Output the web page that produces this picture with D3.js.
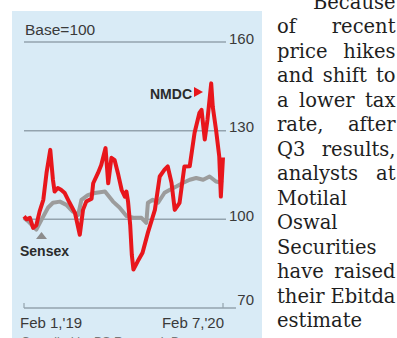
<!DOCTYPE html>
<html><head><meta charset="utf-8">
<script src="https://cdn.jsdelivr.net/npm/d3@7"></script>
<style>html,body{margin:0;padding:0;background:#fff;overflow:hidden}</style>
</head><body>
<svg id="c" width="397" height="338"></svg>
<script>
// ---- data ----
const nmdcDates = ["2019-02-01","2019-02-06","2019-02-12","2019-02-18","2019-02-24","2019-03-02","2019-03-09","2019-03-15","2019-03-22","2019-03-27","2019-03-30","2019-04-05","2019-04-11","2019-04-18","2019-04-27","2019-05-07","2019-05-16","2019-05-22","2019-05-28","2019-06-07","2019-06-10","2019-06-19","2019-06-25","2019-07-03","2019-07-08","2019-07-14","2019-07-20","2019-07-26","2019-08-02","2019-08-08","2019-08-11","2019-08-14","2019-08-18","2019-08-21","2019-08-24","2019-09-01","2019-09-10","2019-09-20","2019-10-03","2019-10-12","2019-10-21","2019-10-27","2019-11-03","2019-11-09","2019-11-18","2019-11-27","2019-12-07","2019-12-16","2019-12-25","2019-12-29","2020-01-04","2020-01-09","2020-01-16","2020-01-19","2020-01-25","2020-01-31","2020-02-03","2020-02-07"];
const nmdcValues = [101,100,100.5,97.1,98,102.6,106.6,115.7,123.5,113.3,109.4,110.6,110,108.9,105.6,102.2,94.8,103.2,106,107,112.2,115.7,118.4,124.1,112.2,120.8,120,115.7,110,107.7,109.4,106,98,88,83,85.8,88.7,95.5,103.2,114.5,116.8,117.9,112.4,103.2,105.6,117.9,118,129.3,136,137,127,133.6,146,138,130.3,121.3,107.7,121];
const sensexDates = ["2019-02-01","2019-02-08","2019-02-24","2019-03-06","2019-03-18","2019-03-27","2019-04-09","2019-04-21","2019-05-03","2019-05-13","2019-05-19","2019-05-31","2019-06-13","2019-07-02","2019-07-17","2019-07-29","2019-08-11","2019-08-26","2019-09-08","2019-09-17","2019-09-20","2019-09-29","2019-10-09","2019-10-21","2019-10-31","2019-11-12","2019-11-24","2019-12-07","2019-12-19","2020-01-01","2020-01-13","2020-01-25","2020-02-07"];
const sensexValues = [100.5,99.5,96.5,100,104,105.6,106,104.9,102.6,101.5,106.6,108.2,108.9,109.4,106,104,101.1,100.5,100.5,98.8,105.6,106.6,105.6,109,110,111.1,112.3,113.4,114,113.4,114.5,112.8,112.3];
const yTicks = [70,100,130,160];
const xTickDates = ["2019-02-01","2020-02-07"];
const xTickLabels = ["Feb 1,'19","Feb 7,'20"];
const seriesNames = ["NMDC","Sensex"];
const baseLabel = "Base=100";
const sourceLabel = "Compiled by BS Research Bureau";
const paragraphLines = ["Because","of recent","price hikes","and shift to","a lower tax","rate, after","Q3 results,","analysts at","Motilal","Oswal","Securities","have raised","their Ebitda","estimate"];

// ---- drawing ----
const svg = d3.select("#c");
const parse = d3.timeParse("%Y-%m-%d");
const sansFont = "'Liberation Sans', Arial, sans-serif";

svg.append("rect").attr("x",12).attr("y",11).attr("width",250).attr("height",340).attr("fill","#d9ebf6");

const x = d3.scaleTime().domain([parse(xTickDates[0]), parse(xTickDates[1])]).range([24,223]);
const y = d3.scaleLinear().domain([70,160]).range([308,42]);

// gridlines + labels
yTicks.forEach(v => {
  const yy = y(v);
  svg.append("line").attr("x1",24).attr("x2", v===70 ? 236 : 226)
    .attr("y1",yy).attr("y2",yy).attr("stroke","#93a3ae").attr("stroke-width",1.5);
  svg.append("text").attr("x",254).attr("y", yy + (v===70 ? -3 : 1.5))
    .attr("text-anchor","end").attr("font-family",sansFont).attr("font-size",15)
    .attr("fill","#3a3a3a").text(v);
});
// end ticks on bottom axis
xTickDates.forEach(d => {
  const xx = x(parse(d));
  svg.append("line").attr("x1",xx).attr("x2",xx).attr("y1",y(70)-5).attr("y2",y(70))
    .attr("stroke","#93a3ae").attr("stroke-width",1.2);
});
// x labels
xTickDates.forEach((d,i) => {
  svg.append("text").attr("x", i===0 ? 20 : 224).attr("y",328)
    .attr("text-anchor", i===0 ? "start" : "end")
    .attr("font-family",sansFont).attr("font-size",15).attr("fill","#3a3a3a").text(xTickLabels[i]);
});

svg.append("text").attr("x",25).attr("y",35).attr("font-family",sansFont).attr("font-size",15.5)
  .attr("fill","#3a3a3a").text(baseLabel);

const line = d3.line().x(d => x(d[0])).y(d => y(d[1]));
const sensex = sensexDates.map((d,i) => [parse(d), sensexValues[i]]);
const nmdc = nmdcDates.map((d,i) => [parse(d), nmdcValues[i]]);

svg.append("path").datum(sensex).attr("d",line).attr("fill","none")
  .attr("stroke","#9c9c9c").attr("stroke-width",4).attr("stroke-linejoin","round");
svg.append("path").datum(nmdc).attr("d",line).attr("fill","none")
  .attr("stroke","#e8161c").attr("stroke-width",4).attr("stroke-linejoin","round");

// series labels
svg.append("text").attr("x",192).attr("y",99).attr("text-anchor","end")
  .attr("font-family",sansFont).attr("font-weight","bold").attr("font-size",14)
  .attr("fill","#2b2b2b").text(seriesNames[0]);
svg.append("path").attr("d","M194,87L203,92L194,97Z").attr("fill","#e8161c");
svg.append("text").attr("x",20).attr("y",256)
  .attr("font-family",sansFont).attr("font-weight","bold").attr("font-size",14)
  .attr("fill","#2b2b2b").text(seriesNames[1]);
svg.append("path").attr("d","M41.5,232L47,239L36,239Z").attr("fill","#8c8c8c");

svg.append("text").attr("x",21).attr("y",346).attr("font-family",sansFont).attr("font-size",12.5)
  .attr("fill","#777").text(sourceLabel);

// paragraph text (justified column)
const pFont = "'DejaVu Serif', serif";
const pSize = 19.5, left = 277, right = 395.5;
const g = svg.append("g").attr("font-family",pFont).attr("font-size",pSize).attr("fill","#1e1e1e");
paragraphLines.forEach((ln,i) => {
  const by = 8.5 + 24.5*i;
  if (i === 0) {
    g.append("text").attr("x",right).attr("y",by).attr("text-anchor","end").text(ln);
    return;
  }
  const words = ln.split(" ");
  if (words.length === 1 || i === paragraphLines.length-1) {
    g.append("text").attr("x",left).attr("y",by).text(ln);
    return;
  }
  const nodes = words.map(w => g.append("text").attr("y",by).text(w));
  const widths = nodes.map(n => n.node().getComputedTextLength());
  const total = d3.sum(widths);
  const gap = (right - left - total) / (words.length - 1);
  let cx = left;
  nodes.forEach((n,k) => { n.attr("x",cx); cx += widths[k] + gap; });
});
</script>
</body></html>
